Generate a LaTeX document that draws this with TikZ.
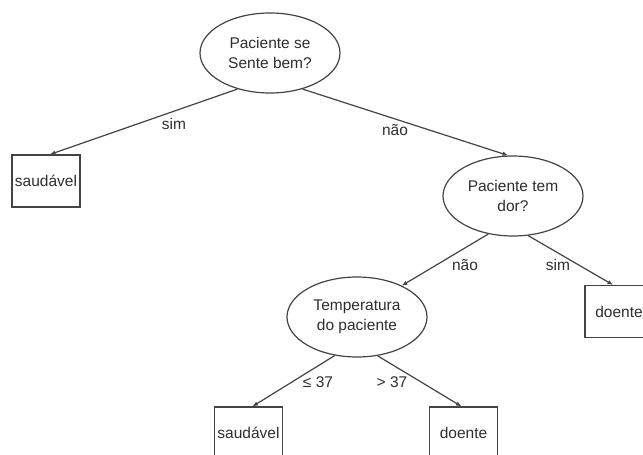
\documentclass[tikz,border=0pt]{standalone}
\usepackage{fontspec}
\setmainfont{Liberation Sans}
\usetikzlibrary{shapes.geometric,arrows.meta}
\definecolor{linec}{HTML}{444444}
\definecolor{textc}{HTML}{2E2E2E}
\tikzset{
  qnode/.style={ellipse,draw=linec,line width=1.2pt,minimum width=140pt,minimum height=80pt,inner sep=0pt,align=center,text=textc,font=\fontsize{15.5}{20}\selectfont},
  leaf/.style={rectangle,draw=linec,line width=1.2pt,minimum width=68pt,minimum height=52pt,inner sep=0pt,text=textc,font=\fontsize{15.5}{20}\selectfont},
  conn/.style={draw=linec,line width=1.2pt,-{Latex[length=5.5pt,width=4.5pt]}},
  lbl/.style={text=textc,inner sep=0pt,font=\fontsize{15.5}{20}\selectfont}
}
\begin{document}
\begin{tikzpicture}[x=1pt,y=-1pt]
\useasboundingbox (0,0) rectangle (643,455);
\clip (0,0) rectangle (643,455);
\fill[white] (0,0) rectangle (643,455);
\node[qnode] (root) at (270,53) {Paciente se\\Sente bem?};
\node[leaf] (s1) at (46,181) {saudável};
\node[qnode] (dor) at (513,196) {Paciente tem\\dor?};
\node[leaf] (d1) at (619,311.5) {doente};
\node[qnode] (temp) at (357,317) {Temperatura\\do paciente};
\node[leaf] (s2) at (248.5,433) {saudável};
\node[leaf] (d2) at (463.5,433) {doente};
\draw[conn] (root.228) -- ([xshift=4pt]s1.north);
\draw[conn] (root.312) -- ([xshift=-5pt]dor.north);
\draw[conn] (dor.237) -- (temp.35);
\draw[conn] (dor.291) -- ([xshift=-6pt]d1.north);
\draw[conn] (temp.240) -- ([xshift=4pt]s2.north);
\draw[conn] (temp.298) -- ([xshift=-2pt]d2.north);
\node[lbl] (lsim1) at (174,124) {sim};
\node[lbl] (lnao1) at (395,130) {não};
\node[lbl] (lnao2) at (465,265) {não};
\node[lbl] (lsim2) at (558,265) {sim};
\node[lbl] (lle) at (318,382) {≤ 37};
\node[lbl] (lgt) at (392,382) {> 37};
\end{tikzpicture}
\end{document}
